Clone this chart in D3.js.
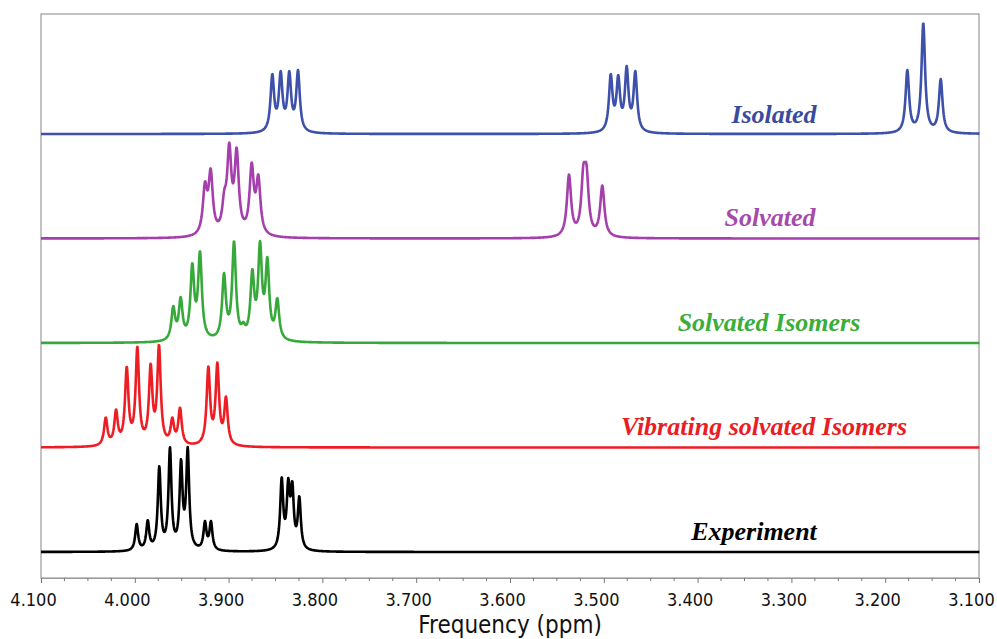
<!DOCTYPE html>
<html>
<head>
<meta charset="utf-8">
<script src="https://cdn.jsdelivr.net/npm/d3@7"></script>
<style>
  html, body { margin: 0; padding: 0; background: #fff; }
  svg { display: block; }
</style>
</head>
<body>
<svg id="chart" width="997" height="639"></svg>
<script>
// ---------- DATA ----------
const seriesNames = ["Isolated", "Solvated", "Solvated Isomers", "Vibrating solvated Isomers", "Experiment"];
const xTickValues = [4.1, 4.0, 3.9, 3.8, 3.7, 3.6, 3.5, 3.4, 3.3, 3.2, 3.1];
const xAxisTitle = "Frequency (ppm)";

// peak positions (ppm) and apex heights (intensity units)
const isolatedPos = [3.8534, 3.8445, 3.8353, 3.8260, 3.4926, 3.4846, 3.4756, 3.4664, 3.1764, 3.1594, 3.1408];
const isolatedH   = [60, 63, 63, 64, 60, 59, 68, 63, 64, 111, 55];

const solvatedPos = [3.9252, 3.9191, 3.9046, 3.8993, 3.8914, 3.8754, 3.8683, 3.5371, 3.5218, 3.5184, 3.5016];
const solvatedH   = [57, 70, 49, 96, 91, 76, 64, 64, 74, 74, 53];

const isomersPos = [3.9590, 3.9511, 3.9387, 3.9305, 3.9049, 3.8942, 3.8843, 3.8747, 3.8665, 3.8587, 3.8481];
const isomersH   = [37, 46, 80, 92, 70, 102, 21, 74, 102, 86, 45];

const vibratingPos = [4.0310, 4.0200, 4.0086, 3.9973, 3.9831, 3.9742, 3.9600, 3.9518, 3.9216, 3.9120, 3.9028];
const vibratingH   = [30, 38, 81, 101, 84, 103, 30, 40, 81, 85, 51];

const experimentPos = [3.9980, 3.9862, 3.9739, 3.9625, 3.9507, 3.9436, 3.9252, 3.9188, 3.8434, 3.8364, 3.8321, 3.8246];
const experimentH   = [28, 32, 86, 105, 93, 105, 31, 31, 75, 74, 71, 56];

// ---------- STYLE / LAYOUT ----------
const lineColors = ["#3d50aa", "#a53fab", "#37a83a", "#ee1d24", "#000000"];
const textColors = ["#3a4a9c", "#a54aab", "#3aad3a", "#ea1c24", "#000000"];
const lineWidths = [0.0023, 0.0027, 0.0024, 0.0022, 0.0019]; // Lorentzian HWHM (ppm)

const peakSets = [
  [isolatedPos, isolatedH],
  [solvatedPos, solvatedH],
  [isomersPos, isomersH],
  [vibratingPos, vibratingH],
  [experimentPos, experimentH]
];

const svg = d3.select("#chart");
const plotL = 41, plotR = 979, plotT = 14, plotB = 578;

const x = d3.scaleLinear().domain([4.1, 3.1]).range([plotL, plotR]);
const baseline = d3.scalePoint().domain(seriesNames).range([134, 552]);
const yI = d3.scaleLinear().domain([0, 100]).range([0, 100]); // intensity -> px height

function lorentz(d, g) { return 1 / (1 + (d / g) * (d / g)); }

// convert apex heights to amplitudes (correct for overlap of neighbours)
function amplitudes(pos, h, g) {
  let A = h.slice();
  for (let it = 0; it < 40; it++) {
    A = pos.map((p, i) => {
      let s = 0;
      pos.forEach((q, j) => { if (j !== i) s += A[j] * lorentz(p - q, g); });
      return Math.max(0, 0.5 * A[i] + 0.5 * (h[i] - s));
    });
  }
  return A;
}

const grid = d3.range(4.1, 3.0995, -0.0004);

// frame
svg.append("rect")
  .attr("x", plotL).attr("y", plotT)
  .attr("width", plotR - plotL).attr("height", plotB - plotT)
  .attr("fill", "none").attr("stroke", "#9a9a9a").attr("stroke-width", 1.2);

// spectra
seriesNames.forEach((name, k) => {
  const [pos, h] = peakSets[k];
  const g = lineWidths[k];
  const A = amplitudes(pos, h, g);
  const pts = grid.map(p => {
    let s = 0;
    pos.forEach((q, j) => { s += A[j] * lorentz(p - q, g); });
    return [p, s];
  });
  const line = d3.line()
    .x(d => x(d[0]))
    .y(d => baseline(name) - yI(d[1]));
  svg.append("path")
    .datum(pts)
    .attr("d", line)
    .attr("fill", "none")
    .attr("stroke", lineColors[k])
    .attr("stroke-width", 2.6)
    .attr("stroke-linejoin", "round");
});

// labels
const labelCX = [774, 770, 769, 764, 754];
const labelDY = [-11, -13, -12, -13, -12];
seriesNames.forEach((name, k) => {
  svg.append("text")
    .attr("x", labelCX[k])
    .attr("y", baseline(name) + labelDY[k])
    .attr("text-anchor", "middle")
    .attr("font-family", "'Liberation Serif', 'Times New Roman', serif")
    .attr("font-weight", "bold")
    .attr("font-style", "italic")
    .attr("font-size", 26)
    .attr("fill", textColors[k])
    .text(name);
});

// x axis
const xAxis = d3.axisBottom(x)
  .tickValues(xTickValues)
  .tickFormat(d3.format(".3f"))
  .tickSize(5).tickPadding(10);
const axG = svg.append("g").attr("transform", `translate(0,${plotB})`).call(xAxis);
axG.select(".domain").attr("stroke", "#9a9a9a").attr("stroke-width", 1.2);
axG.selectAll(".tick line").attr("stroke", "#777");
axG.selectAll(".tick text")
  .attr("font-family", "'DejaVu Sans', sans-serif")
  .attr("font-size", 18)
  .attr("fill", "#111")
  .attr("transform", "translate(-8,0) scale(0.9,1)");

// minor ticks
const minor = d3.range(4.1, 3.0999, -0.025).filter(v => Math.abs(Math.round(v * 10) - v * 10) > 1e-6);
svg.append("g").selectAll("line").data(minor).join("line")
  .attr("x1", d => x(d)).attr("x2", d => x(d))
  .attr("y1", plotB).attr("y2", plotB + 3)
  .attr("stroke", "#777");

// axis title
svg.append("text")
  .attr("transform", `translate(510,633) scale(0.9,1)`)
  .attr("text-anchor", "middle")
  .attr("font-family", "'DejaVu Sans', sans-serif")
  .attr("font-size", 24)
  .attr("fill", "#111")
  .text(xAxisTitle);
</script>
</body>
</html>
